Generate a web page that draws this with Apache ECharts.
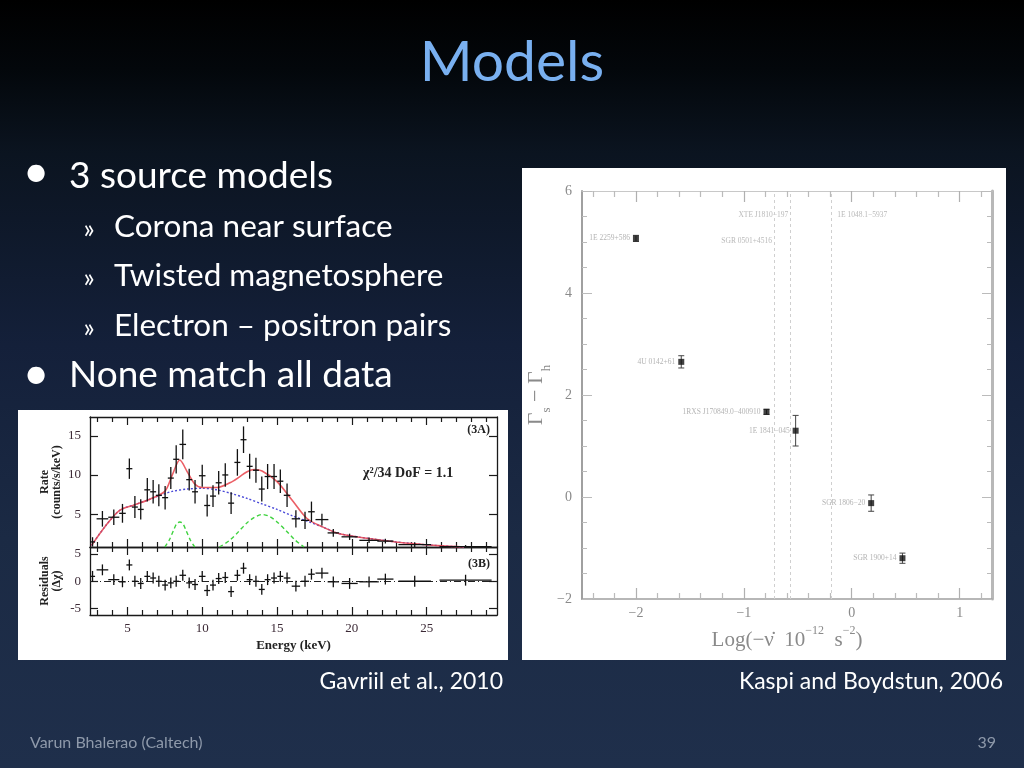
<!DOCTYPE html>
<html><head><meta charset="utf-8">
<script src="https://cdn.jsdelivr.net/npm/echarts@6/dist/echarts.min.js"></script>
<style>
html,body{margin:0;padding:0;}
#c{width:1024px;height:768px;background:linear-gradient(to bottom,#000000 0%,#03070b 9%,#0b1420 20%,#14203a 45%,#1b2a44 70%,#1f2f4b 100%);}
</style>
</head><body><div id="c"></div>
<script>
// ---------- Left panel: Gavriil et al. 2010 spectrum ----------
const energy = [2.67,3.33,4.09,4.67,5.13,5.5,5.89,6.33,6.72,7.1,7.52,7.9,8.26,8.7,9.13,9.52,10.0,10.33,10.72,11.1,11.54,11.93,12.35,12.76,13.17,13.59,13.98,14.37,14.8,15.22,15.67,16.26,16.87,17.3,18.0,18.76,19.85,21.15,22.24,24.2,27.6];
const energyHalfWidth = [0.17,0.39,0.37,0.22,0.2,0.2,0.2,0.2,0.2,0.2,0.2,0.2,0.2,0.22,0.2,0.2,0.22,0.2,0.2,0.2,0.2,0.2,0.2,0.2,0.2,0.2,0.2,0.2,0.2,0.2,0.22,0.28,0.27,0.22,0.43,0.38,0.54,0.65,0.54,1.09,1.74];
const rate = [1.45,4.4,4.6,5.1,10.8,5.9,5.6,8.1,7.85,7.4,7.1,9.6,12.0,13.9,9.4,7.85,9.9,6.1,7.3,9.0,10.0,6.4,11.6,14.5,11.1,10.6,8.2,9.8,9.8,9.2,7.4,4.4,4.2,5.3,4.3,2.6,2.1,1.65,1.55,1.1,0.85];
const rateErr = [0.6,1.0,1.0,1.2,1.3,1.4,1.3,1.5,1.5,1.4,1.5,1.4,1.8,1.9,1.4,1.5,1.4,1.4,1.4,1.5,1.5,1.4,1.7,1.7,1.6,1.6,1.6,1.6,1.6,1.5,1.5,1.1,1.1,1.3,0.75,0.5,0.4,0.35,0.3,0.3,0.2];
const residual = [0.9,2.1,0.3,-0.1,3.0,0.0,-0.4,0.9,0.6,0.0,-0.7,-0.3,0.0,1.1,-0.3,-0.6,0.9,-1.7,-0.7,0.5,0.7,-1.9,1.1,2.4,0.3,0.0,-1.5,0.3,0.6,0.9,0.6,-0.9,0.0,1.3,1.5,-0.1,-0.4,-0.1,0.4,0.0,0.2];
const modelEnergy = [2.6,3.5,4.5,5.5,6.5,7.5,8.0,8.5,9.0,9.5,10,11,12,13,13.5,14,15,16,17,18,19,20,22,24,26,27.5];
const modelTotal = [1.0,3.4,5.5,6.2,6.9,7.9,10.0,11.9,10.4,8.85,8.4,8.4,9.15,10.4,10.7,10.5,9.15,6.8,4.44,3.4,2.6,2.2,1.67,1.24,0.94,0.8];
const contEnergy = [2.6,3.5,4.5,5.5,6.5,7.5,8,9,10,11,12,13,14,15,16,17,18,19,20,22,24,26,27.5];
const contRate = [1.0,3.4,5.5,6.2,6.9,7.6,7.9,8.2,8.3,8.1,7.6,7.0,6.3,5.6,4.8,4.1,3.4,2.6,2.2,1.67,1.24,0.94,0.8];
const line1Energy = [7.5,7.8,8.1,8.3,8.5,8.7,8.9,9.2,9.5];
const line1Rate = [0.8,1.7,3.0,3.8,4.0,3.8,3.0,1.7,0.8];
const line2Energy = [11.15,11.8,12.4,13.0,13.5,14.0,14.5,15.0,15.6,16.2,16.8];
const line2Rate = [0.8,1.6,2.7,3.9,4.6,4.95,4.7,4.0,2.9,1.7,0.8];
const energyTicks = [5,10,15,20,25];
const energyMinorTicks = [3,4,6,7,8,9,11,12,13,14,16,17,18,19,21,22,23,24,26,27,28,29];
const rateTicks = [5,10,15];
const residualTicks = [-5,0,5];

// ---------- Right panel: Kaspi & Boydstun 2006 ----------
const sourceNames = ['1E 2259+586','4U 0142+61','1RXS J170849.0−400910','1E 1841−045','SGR 1806−20','SGR 1900+14'];
const logNuDot = [-2.0,-1.58,-0.79,-0.52,0.18,0.47];
const gammaDiff = [5.07,2.65,1.67,1.3,-0.12,-1.2];
const gammaErr = [0.06,0.12,0.05,0.3,0.16,0.1];
const limitNames = ['SGR 0501+4516','XTE J1810−197','1E 1048.1−5937'];
const limitX = [-0.72,-0.57,-0.19];
const limitLabelY = [5.02,5.53,5.53];
const limitLabelSide = ['left','left','right'];
const logTicks = [-2,-1,0,1];
const logMinorTicks = [-2.4,-2.2,-1.8,-1.6,-1.4,-1.2,-0.8,-0.6,-0.4,-0.2,0.2,0.4,0.6,0.8,1.2];

const chart = echarts.init(document.getElementById('c'), null, {renderer:'canvas'});

const SERIF = 'Liberation Serif';
const LBLK = '#1a1a1a';

function xAx(grid, pos, min, max, ticks, len, opt) {
  opt = opt || {};
  return Object.assign({
    type:'value', gridIndex:grid, position:pos, min:min, max:max,
    axisLine:{show:opt.line!==false, onZero:false, lineStyle:{color:opt.lineColor||LBLK, width:opt.lineWidth||1.3}},
    axisTick:{show:true, inside:true, length:len, customValues:ticks, lineStyle:{color:opt.tickColor||LBLK, width:opt.tickWidth||1.2}},
    axisLabel:{show:false},
    splitLine:{show:false}
  }, opt.extra||{});
}

function crossItem(params, api) {
  const x = api.value(0), y = api.value(1), xh = api.value(2), yh = api.value(3);
  const a = api.coord([x - xh, y]), b = api.coord([x + xh, y]);
  const c = api.coord([x, y - yh]), d = api.coord([x, y + yh]);
  return {type:'group', children:[
    {type:'line', shape:{x1:a[0],y1:a[1],x2:b[0],y2:b[1]}, style:{stroke:'#111', lineWidth:1.3}},
    {type:'line', shape:{x1:c[0],y1:c[1],x2:d[0],y2:d[1]}, style:{stroke:'#111', lineWidth:1.3}}
  ]};
}
function errBarItem(params, api) {
  const x = api.value(0), y = api.value(1), e = api.value(2);
  const lo = api.coord([x, y - e]), hi = api.coord([x, y + e]);
  const w = 3;
  return {type:'group', children:[
    {type:'line', shape:{x1:lo[0],y1:lo[1],x2:hi[0],y2:hi[1]}, style:{stroke:'#444', lineWidth:1}},
    {type:'line', shape:{x1:lo[0]-w,y1:lo[1],x2:lo[0]+w,y2:lo[1]}, style:{stroke:'#444', lineWidth:1}},
    {type:'line', shape:{x1:hi[0]-w,y1:hi[1],x2:hi[0]+w,y2:hi[1]}, style:{stroke:'#444', lineWidth:1}}
  ]};
}

const minusFmt = v => String(v).replace('-', '−');

function yAx(grid, pos, min, max, ticks, opt) {
  return Object.assign({
    type:'value', gridIndex:grid, position:pos, min:min, max:max,
    axisLine:{show:true, onZero:false, lineStyle:{color:LBLK, width:1.3}},
    axisTick:{show:true, inside:true, length:8, customValues:ticks, lineStyle:{color:LBLK, width:1.2}},
    axisLabel:{show:false}, splitLine:{show:false}
  }, opt||{});
}

const option = {
  backgroundColor:'transparent',
  animation:false,
  grid:[
    {left:90, top:417, width:407, height:130},
    {left:90, top:547, width:407, height:68},
    {left:582, top:191, width:410, height:408}
  ],
  xAxis:[
    xAx(0,'bottom',2.5,29.7,energyTicks,8),
    xAx(0,'bottom',2.5,29.7,energyMinorTicks,5,{line:false}),
    xAx(0,'top',2.5,29.7,energyTicks,8),
    xAx(0,'top',2.5,29.7,energyMinorTicks,5,{line:false}),
    xAx(1,'bottom',2.5,29.7,energyTicks,8,{extra:{
      axisLabel:{show:true, customValues:energyTicks, color:'#3c2a36', fontFamily:SERIF, fontSize:13, margin:7},
      name:'Energy (keV)', nameLocation:'middle', nameGap:24,
      nameTextStyle:{color:'#222', fontFamily:SERIF, fontWeight:'bold', fontSize:13}
    }}),
    xAx(1,'bottom',2.5,29.7,energyMinorTicks,5,{line:false}),
    xAx(1,'top',2.5,29.7,energyTicks,8),
    xAx(1,'top',2.5,29.7,energyMinorTicks,5,{line:false}),
    xAx(2,'bottom',-2.5,1.3,logTicks,11,{lineColor:'#a0a0a0',lineWidth:1.5,tickColor:'#b0b0b0',extra:{
      axisLabel:{show:true, customValues:logTicks, formatter:minusFmt, color:'#8a8a8a', fontFamily:SERIF, fontSize:14, margin:7},
      name:'{m|Log(−ν̇  10}{p|−12}{m|  s}{p|−2}{m|)}', nameLocation:'middle', nameGap:24,
      nameTextStyle:{rich:{
        m:{color:'#8a8a8a', fontFamily:SERIF, fontSize:21, lineHeight:26, verticalAlign:'bottom'},
        p:{color:'#8a8a8a', fontFamily:SERIF, fontSize:12, lineHeight:26, verticalAlign:'top'}
      }}
    }}),
    xAx(2,'bottom',-2.5,1.3,logMinorTicks,6,{line:false,tickColor:'#bbbbbb'}),
    xAx(2,'top',-2.5,1.3,logTicks,11,{lineColor:'#c8c8c8',lineWidth:1,tickColor:'#b0b0b0'}),
    xAx(2,'top',-2.5,1.3,logMinorTicks,6,{line:false,tickColor:'#bbbbbb'})
  ],
  yAxis:[
    yAx(0,'left',0.8,17.4,rateTicks,{
      axisLabel:{show:true, customValues:rateTicks, color:'#3c2a36', fontFamily:SERIF, fontSize:13, margin:9},
      name:'Rate\n(counts/s/keV)', nameLocation:'middle', nameGap:27, nameRotate:90,
      nameTextStyle:{color:'#222', fontFamily:SERIF, fontWeight:'bold', fontSize:12, lineHeight:12}}),
    yAx(0,'right',0.8,17.4,rateTicks),
    yAx(1,'left',-6.2,6.3,residualTicks,{
      axisLabel:{show:true, customValues:residualTicks, color:'#3c2a36', fontFamily:SERIF, fontSize:13, margin:9},
      name:'Residuals\n(Δχ)', nameLocation:'middle', nameGap:27, nameRotate:90,
      nameTextStyle:{color:'#222', fontFamily:SERIF, fontWeight:'bold', fontSize:12, lineHeight:12}}),
    yAx(1,'right',-6.2,6.3,residualTicks),
    {type:'value', gridIndex:2, position:'left', min:-2, max:6, interval:2,
      axisLine:{show:true, onZero:false, lineStyle:{color:'#a0a0a0', width:2}},
      axisTick:{show:true, inside:true, length:10, lineStyle:{color:'#bbbbbb', width:1}},
      minorTick:{show:true, splitNumber:4, length:5, lineStyle:{color:'#bbbbbb', width:1}},
      axisLabel:{show:true, formatter:minusFmt, color:'#8a8a8a', fontFamily:SERIF, fontSize:14, margin:10},
      splitLine:{show:false},
      name:'{m|Γ}{s|s}{m| − Γ}{s|h}', nameLocation:'middle', nameGap:26, nameRotate:90,
      nameTextStyle:{rich:{
        m:{color:'#8a8a8a', fontFamily:SERIF, fontSize:22, lineHeight:28, verticalAlign:'top'},
        s:{color:'#8a8a8a', fontFamily:SERIF, fontSize:13, lineHeight:28, verticalAlign:'bottom'}
      }}},
    {type:'value', gridIndex:2, position:'right', min:-2, max:6, interval:2,
      axisLine:{show:true, onZero:false, lineStyle:{color:'#b8b8b8', width:3}},
      axisTick:{show:true, inside:true, length:10, lineStyle:{color:'#bbbbbb', width:1}},
      minorTick:{show:true, splitNumber:4, length:5, lineStyle:{color:'#bbbbbb', width:1}},
      axisLabel:{show:false}, splitLine:{show:false}}
  ],
  series:[
    {type:'line', xAxisIndex:0, yAxisIndex:0, data:contEnergy.map((e,i)=>[e,contRate[i]]), smooth:0.3,
      showSymbol:false, lineStyle:{color:'#4a4ad8', width:1.4, type:[2,2]}, z:3},
    {type:'line', xAxisIndex:0, yAxisIndex:0, data:modelEnergy.map((e,i)=>[e,modelTotal[i]]), smooth:0.3,
      showSymbol:false, lineStyle:{color:'#e8424a', width:1.6, opacity:0.85}, z:4},
    {type:'line', xAxisIndex:0, yAxisIndex:0, data:line1Energy.map((e,i)=>[e,line1Rate[i]]), smooth:0.3,
      showSymbol:false, lineStyle:{color:'#3ed23e', width:1.4, type:[4,3]}, z:3},
    {type:'line', xAxisIndex:0, yAxisIndex:0, data:line2Energy.map((e,i)=>[e,line2Rate[i]]), smooth:0.3,
      showSymbol:false, lineStyle:{color:'#3ed23e', width:1.4, type:[4,3]}, z:3},
    {type:'custom', xAxisIndex:0, yAxisIndex:0, renderItem:crossItem, clip:true,
      data:energy.map((e,i)=>[e,rate[i],energyHalfWidth[i],rateErr[i]]), encode:{x:0,y:1}, z:5},
    {type:'custom', xAxisIndex:4, yAxisIndex:2, renderItem:crossItem, clip:true,
      data:energy.map((e,i)=>[e,residual[i],energyHalfWidth[i],1.0]), encode:{x:0,y:1}, z:5,
      markLine:{silent:true, symbol:'none', label:{show:false},
        lineStyle:{color:'#222', width:1, type:[7,3,1,3]}, data:[{yAxis:0}]}},
    {type:'scatter', xAxisIndex:8, yAxisIndex:4, symbolSize:0,
      data:limitNames.map((n,i)=>({name:n, value:[limitX[i], limitLabelY[i]],
        label:{position:limitLabelSide[i], distance:limitLabelSide[i]==='left'?2:6}})),
      label:{show:true, formatter:p=>p.name, color:'#a8a8a8', fontFamily:SERIF, fontSize:7.5},
      markLine:{silent:true, symbol:'none', label:{show:false},
        lineStyle:{color:'#cfcfcf', width:1, type:[3,3]}, data:limitX.map(x=>({xAxis:x}))}},
    {type:'custom', xAxisIndex:8, yAxisIndex:4, renderItem:errBarItem,
      data:logNuDot.map((x,i)=>[x,gammaDiff[i],gammaErr[i]]), encode:{x:0,y:1}, z:3},
    {type:'scatter', xAxisIndex:8, yAxisIndex:4, symbol:'rect', symbolSize:6,
      itemStyle:{color:'#111'},
      data:sourceNames.map((n,i)=>({name:n, value:[logNuDot[i], gammaDiff[i]]})),
      label:{show:true, position:'left', distance:3, formatter:p=>p.name, color:'#a0a0a0', fontFamily:SERIF, fontSize:7.5}, z:4}
  ],
  graphic:[
    {type:'rect', z:-10, silent:true, shape:{x:18, y:410, width:490, height:250}, style:{fill:'#ffffff'}},
    {type:'rect', z:-10, silent:true, shape:{x:522, y:168, width:484, height:492}, style:{fill:'#ffffff'}},
    {type:'text', x:512, y:91, style:{text:'Models', fill:'#79b0f0', font:'normal 57px Lato', textAlign:'center', textVerticalAlign:'bottom'}},
    {type:'text', x:36, y:172, style:{text:'•', fill:'#ffffff', font:'normal 46px Lato', textAlign:'center', textVerticalAlign:'middle'}},
    {type:'text', x:69, y:195, style:{text:'3 source models', fill:'#ffffff', font:'normal 37px Lato', textAlign:'left', textVerticalAlign:'bottom'}},
    {type:'text', x:89, y:230, style:{text:'»', fill:'#ffffff', font:'normal 26px Lato', textAlign:'center', textVerticalAlign:'middle'}},
    {type:'text', x:114, y:243, style:{text:'Corona near surface', fill:'#ffffff', font:'normal 31.5px Lato', textAlign:'left', textVerticalAlign:'bottom'}},
    {type:'text', x:89, y:279, style:{text:'»', fill:'#ffffff', font:'normal 26px Lato', textAlign:'center', textVerticalAlign:'middle'}},
    {type:'text', x:114, y:292, style:{text:'Twisted magnetosphere', fill:'#ffffff', font:'normal 31.5px Lato', textAlign:'left', textVerticalAlign:'bottom'}},
    {type:'text', x:89, y:329, style:{text:'»', fill:'#ffffff', font:'normal 26px Lato', textAlign:'center', textVerticalAlign:'middle'}},
    {type:'text', x:114, y:342, style:{text:'Electron – positron pairs', fill:'#ffffff', font:'normal 31.5px Lato', textAlign:'left', textVerticalAlign:'bottom'}},
    {type:'text', x:36, y:374, style:{text:'•', fill:'#ffffff', font:'normal 46px Lato', textAlign:'center', textVerticalAlign:'middle'}},
    {type:'text', x:69, y:394, style:{text:'None match all data', fill:'#ffffff', font:'normal 37px Lato', textAlign:'left', textVerticalAlign:'bottom'}},
    {type:'text', x:490, y:430, style:{text:'(3A)', fill:'#222', font:'bold 12px "Liberation Serif"', textAlign:'right', textVerticalAlign:'middle'}},
    {type:'text', x:490, y:564, style:{text:'(3B)', fill:'#222', font:'bold 12px "Liberation Serif"', textAlign:'right', textVerticalAlign:'middle'}},
    {type:'text', x:363, y:473, style:{text:'χ²/34 DoF = 1.1', fill:'#222', font:'bold 14px "Liberation Serif"', textAlign:'left', textVerticalAlign:'middle'}},
    {type:'text', x:503, y:682, style:{text:'Gavriil et al., 2010', fill:'#ffffff', font:'normal 23px Lato', textAlign:'right', textVerticalAlign:'middle'}},
    {type:'text', x:1003, y:682, style:{text:'Kaspi and Boydstun, 2006', fill:'#ffffff', font:'normal 23px Lato', textAlign:'right', textVerticalAlign:'middle'}},
    {type:'text', x:30, y:743, style:{text:'Varun Bhalerao (Caltech)', fill:'#8e99aa', font:'normal 16px Lato', textAlign:'left', textVerticalAlign:'middle'}},
    {type:'text', x:996, y:743, style:{text:'39', fill:'#8e99aa', font:'normal 16px Lato', textAlign:'right', textVerticalAlign:'middle'}}
  ]
};
chart.setOption(option);
</script>
</body></html>
